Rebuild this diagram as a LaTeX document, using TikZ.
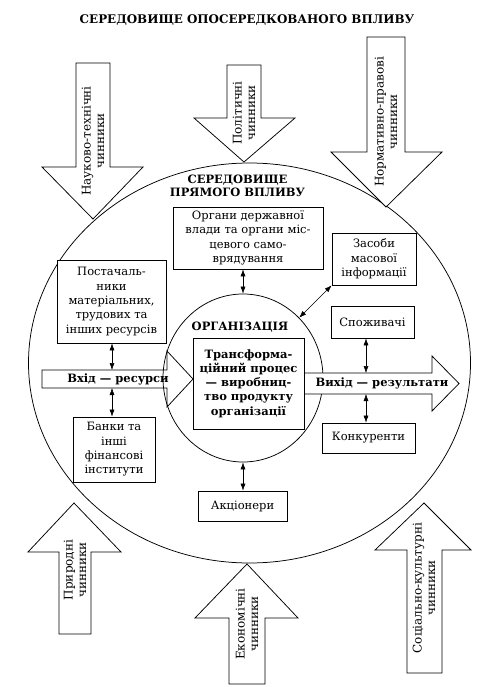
\documentclass[tikz,border=0pt]{standalone}
\usepackage{fontspec}
\setmainfont{DejaVu Serif}
\usetikzlibrary{shapes,arrows.meta,positioning}

\begin{document}
\begin{tikzpicture}[x=1pt, y=-1pt, line width=0.75pt,
                    font=\fontsize{11.5}{14.3}\selectfont]
        % Setup the styles for the boxes, the labels and the arrows
        \tikzset{box style/.style={draw,
                                   fill=white,
                                   align=center,
                                   inner sep=0pt},
                 ring style/.style={ellipse, draw, inner sep=0pt},
                 big arrow/.style={draw, fill=white, line join=miter},
                 bold label/.style={align=center, font=\fontsize{11.5}{13.5}\selectfont\bfseries},
                 factor label/.style={rotate=90, align=center,
                                      font=\fontsize{12}{13.5}\selectfont},
                 link/.style={<->, line width=0.5pt,
                              >={Latex[length=7pt, width=5pt]}}}

        \useasboundingbox (0, 0) rectangle (495, 687);

        % Draw the outer environment
        \node[ring style, minimum width=442pt, minimum height=400pt] at (249.5, 363) (env) {};

        % Draw the factor arrows
        \draw[big arrow] (76, 63) -- (110, 63) -- (110, 167) -- (143, 167) -- (93, 219) -- (42, 167) -- (76, 167) -- cycle;
        \draw[big arrow] (227, 65) -- (261, 65) -- (261, 118) -- (295, 118) -- (244, 162) -- (194, 118) -- (227, 118) -- cycle;
        \draw[big arrow] (367, 37) -- (405, 37) -- (405, 152) -- (442, 152) -- (386, 207) -- (331, 152) -- (367, 152) -- cycle;
        \draw[big arrow] (59, 634) -- (91, 634) -- (91, 552) -- (121, 552) -- (74, 503) -- (28, 552) -- (59, 552) -- cycle;
        \draw[big arrow] (229, 684) -- (265, 684) -- (265, 618) -- (298, 618) -- (247, 564) -- (195, 618) -- (229, 618) -- cycle;
        \draw[big arrow] (407, 673) -- (442, 673) -- (442, 550) -- (471, 550) -- (424, 503) -- (375, 550) -- (407, 550) -- cycle;

        \node[factor label] at (93, 141)  (sci) {Науково-технічні\\чинники};
        \node[factor label] at (244, 113) (pol) {Політичні\\чинники};
        \node[factor label] at (386, 122) (law) {Нормативно-правові\\чинники};
        \node[factor label] at (75, 570)  (nat) {Природні\\чинники};
        \node[factor label] at (247, 624) (eco) {Економічні\\чинники};
        \node[factor label] at (424, 588) (soc) {Соціально-культурні\\чинники};

        % Draw the input arrow and the organisation
        \draw[big arrow] (42, 370) -- (167, 370) -- (167, 351) -- (193, 379) -- (167, 407) -- (167, 388) -- (42, 388) -- cycle;
        \node[ring style, minimum width=160pt, minimum height=168pt] at (243, 378) (org) {};
        \draw[big arrow] (304, 373) -- (432, 373) -- (432, 356) -- (459, 383.5) -- (432, 411) -- (432, 394) -- (304, 394) -- cycle;

        \coordinate (in top)  at (112, 370);
        \coordinate (in bot)  at (112, 388);
        \coordinate (out top) at (366, 373);
        \coordinate (out bot) at (366, 394);

        % Draw the labels
        \node[bold label, font=\fontsize{11.9}{14}\selectfont\bfseries] at (247, 20) (title) {СЕРЕДОВИЩЕ ОПОСЕРЕДКОВАНОГО ВПЛИВУ};
        \node[bold label] at (237.5, 186) (direct) {СЕРЕДОВИЩЕ\\ПРЯМОГО ВПЛИВУ};
        \node[bold label] at (240, 327)   (orgname) {ОРГАНІЗАЦІЯ};
        \node[bold label] at (118, 379)   (input) {Вхід — ресурси};
        \node[bold label] at (382, 383.5) (output) {Вихід — результати};

        % Draw the boxes
        \node[box style, minimum width=150pt, minimum height=62pt] at (248, 238)     (gov)    {Органи державної\\влади та органи міс-\\цевого само-\\врядування};
        \node[box style, minimum width=84pt,  minimum height=52pt] at (374, 259)     (media)  {Засоби\\масової\\інформації};
        \node[box style, minimum width=109pt, minimum height=83pt] at (111.5, 301.5) (supply) {Постачаль-\\ники\\матеріальних,\\трудових та\\інших ресурсів};
        \node[box style, minimum width=82pt,  minimum height=65pt] at (114, 449.5)   (bank)   {Банки та\\інші\\фінансові\\інститути};
        \node[box style, minimum width=83pt,  minimum height=32pt] at (372.5, 322)   (cons)   {Споживачі};
        \node[box style, minimum width=93pt,  minimum height=30pt] at (368.5, 438)   (comp)   {Конкуренти};
        \node[box style, minimum width=111pt, minimum height=91pt,
              font=\fontsize{11.5}{14.3}\selectfont\bfseries] at (248.5, 383.5) (trans) {Трансформа-\\ційний процес\\— виробниц-\\тво продукту\\організації};
        \node[box style, minimum width=89pt,  minimum height=30pt] at (242.5, 506)   (share)  {Акціонери};

        % Connect the boxes with arrows
        \draw[link] (gov.south -| org.north) -- (org.north);
        \draw[link] (media.south west) -- (org.47);
        \draw[link] (supply.south -| in top) -- (in top);
        \draw[link] (in bot) -- (bank.north -| in bot);
        \draw[link] (cons.south -| out top) -- (out top);
        \draw[link] (out bot) -- (comp.north -| out bot);
        \draw[link] (org.south) -- (share.north -| org.south);
\end{tikzpicture}
\end{document}
